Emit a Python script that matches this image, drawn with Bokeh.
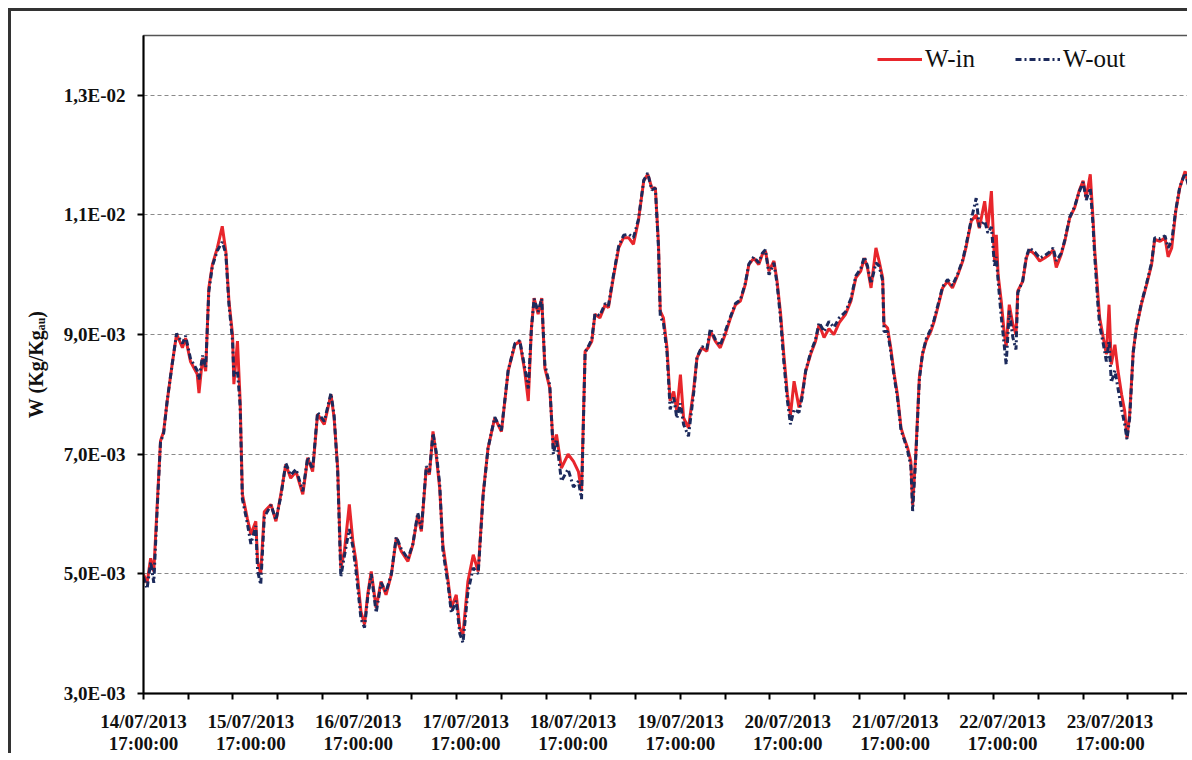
import numpy as np
from bokeh.plotting import figure
from bokeh.models import Range1d, FixedTicker, Legend, LegendItem
from bokeh.embed import file_html
from bokeh.resources import INLINE

# hours since 14/07/2013 17:00:00
hours = [0.0, 0.8, 1.6, 2.3, 3.1, 3.8, 4.5, 5.3, 6.4, 7.4, 8.7, 9.4, 10.5, 12.0, 12.4, 13.2, 13.9,
         14.6, 15.4, 16.5, 17.6, 18.4, 19.1, 19.9, 20.2, 21.0, 21.6, 22.1, 23.2, 24.0, 25.1, 25.5,
         26.2, 27.0, 28.5, 29.6, 30.7, 31.8, 32.9, 34.1, 35.6, 36.7, 37.8, 38.9, 40.4, 41.9, 42.6,
         43.4, 44.1, 44.9, 46.0, 46.8, 47.5, 48.6, 49.4, 50.1, 50.9, 52.0, 53.1, 54.2, 55.4, 56.5,
         57.6, 59.1, 60.2, 61.3, 62.1, 63.2, 63.9, 64.7, 65.4, 66.2, 66.9, 68.1, 68.8, 69.9, 70.7,
         71.4, 72.5, 73.7, 74.8, 75.9, 77.0, 78.5, 80.0, 81.5, 83.0, 84.1, 85.2, 86.0, 86.7, 87.3,
         88.2, 89.0, 89.7, 90.8, 91.6, 92.3, 93.4, 94.9, 96.1, 97.2, 97.9, 98.7, 99.4, 100.2, 100.9,
         102.0, 103.2, 103.9, 105.0, 106.2, 107.3, 108.4, 109.5, 110.6, 111.8, 112.7, 113.6, 114.4,
         115.1, 115.5, 116.2, 117.0, 117.7, 118.5, 119.2, 120.0, 120.7, 121.8, 123.0, 123.7, 124.8,
         125.9, 126.7, 127.8, 128.9, 130.0, 131.2, 132.3, 133.4, 134.5, 135.3, 136.4, 137.5, 138.3,
         139.0, 139.8, 140.9, 141.6, 142.4, 143.1, 143.9, 144.6, 145.4, 146.5, 147.2, 148.0, 149.1,
         150.2, 151.0, 152.1, 153.2, 154.3, 155.5, 156.9, 158.1, 159.2, 160.3, 161.1, 161.8, 162.6,
         163.7, 164.4, 165.2, 165.5, 166.3, 167.0, 167.8, 168.5, 169.3, 170.0, 170.8, 171.5, 171.9,
         172.6, 173.4, 174.1, 174.9, 176.0, 176.7, 177.5, 178.6, 179.7, 180.8, 182.0, 183.1, 183.8,
         185.0, 186.1, 186.8, 188.0, 188.7, 189.5, 190.2, 190.6, 191.0, 191.7, 192.4, 192.8, 193.5,
         194.3, 195.0, 195.4, 196.5, 197.3, 198.0, 199.2, 200.3, 201.4, 202.5, 203.3, 204.0, 205.1,
         205.9, 207.0, 208.1, 209.1, 210.0, 210.7, 211.6, 212.2, 212.6, 213.0, 213.3, 213.7, 214.5,
         215.2, 215.8, 216.3, 217.1, 217.8, 218.6, 219.3, 219.8, 220.4, 221.2, 221.9, 223.0, 224.2,
         225.3, 226.0, 227.2, 228.3, 229.0, 229.8, 230.7, 231.6, 232.8, 233.9]

# W-in, in units of 1E-03 kg/kg
w_in_e3 = [4.99, 4.85, 5.26, 5.04, 6.21, 7.22, 7.38, 7.89, 8.50, 9.01, 8.78, 8.94, 8.55, 8.34, 8.02, 8.61, 8.39,
           9.78, 10.17, 10.45, 10.81, 10.39, 9.56, 9.00, 8.17, 8.89, 7.89, 6.33, 5.93, 5.66, 5.88, 5.21,
           5.00, 6.04, 6.16, 5.88, 6.33, 6.83, 6.60, 6.71, 6.33, 6.94, 6.71, 7.67, 7.50, 8.00, 7.61,
           6.77, 5.10, 5.38, 6.16, 5.54, 5.21, 4.37, 4.15, 4.65, 5.04, 4.43, 4.87, 4.65, 4.99, 5.60,
           5.38, 5.21, 5.49, 5.99, 5.71, 6.77, 6.66, 7.38, 7.00, 6.43, 5.49, 4.87, 4.43, 4.65, 4.09,
           3.99, 4.87, 5.32, 5.04, 6.33, 7.10, 7.61, 7.38, 8.39, 8.83, 8.89, 8.39, 7.89, 9.11, 9.61,
           9.34, 9.61, 8.44, 8.11, 7.10, 7.33, 6.77, 7.00, 6.88, 6.71, 6.38, 8.72, 8.78, 8.89, 9.34,
           9.28, 9.50, 9.45, 9.95, 10.45, 10.62, 10.62, 10.51, 10.90, 11.57, 11.68, 11.45, 11.45,
           10.51, 9.39, 9.28, 8.78, 7.89, 8.05, 7.72, 8.33, 7.61, 7.44, 8.11, 8.61, 8.78,
           8.72, 9.06, 8.89, 8.78, 9.00, 9.28, 9.50, 9.56, 9.84, 10.17, 10.28, 10.17, 10.34,
           10.40, 10.06, 10.23, 9.89, 9.34, 8.67, 8.00, 7.66, 8.22, 7.78, 8.00, 8.39, 8.67,
           8.89, 9.17, 8.95, 9.10, 9.00, 9.20, 9.34, 9.56, 9.95, 10.06, 10.28, 10.12, 9.78,
           10.45, 10.23, 9.95, 9.17, 9.11, 8.78, 8.33, 8.00, 7.44, 7.27, 7.10, 6.88, 6.15,
           7.00, 8.28, 8.67, 8.89, 9.06, 9.22, 9.45, 9.78, 9.89, 9.78, 10.00, 10.23, 10.45,
           10.90, 11.00, 10.78, 11.23, 10.78, 11.40, 10.23, 10.67, 10.00, 9.56, 9.00, 8.80, 9.50,
           9.17, 9.00, 9.73, 9.89, 10.28, 10.42, 10.34, 10.23, 10.28, 10.34, 10.42, 10.12, 10.34,
           10.56, 10.95, 11.12, 11.40, 11.57, 11.29, 11.68, 10.95, 10.40, 10.00, 9.67, 9.28, 8.95,
           8.67, 9.50, 8.50, 8.83, 8.39, 8.00, 7.72, 7.27, 7.66, 8.72, 9.11, 9.50, 9.84,
           10.17, 10.59, 10.56, 10.62, 10.30, 10.45, 11.06, 11.45, 11.73, 11.40]

# W-out, in units of 1E-03 kg/kg
w_out_e3 = [4.95, 4.75, 5.20, 4.85, 6.15, 7.20, 7.35, 7.90, 8.50, 9.02, 8.85, 8.98, 8.60, 8.40, 8.25, 8.65, 8.45,
            9.72, 10.15, 10.40, 10.55, 10.35, 9.50, 8.90, 8.30, 8.40, 7.80, 6.25, 5.85, 5.50, 5.80, 5.05,
            4.82, 5.95, 6.15, 5.90, 6.30, 6.85, 6.65, 6.75, 6.38, 6.95, 6.75, 7.70, 7.55, 8.02, 7.65,
            6.70, 4.95, 5.30, 5.75, 5.45, 5.05, 4.25, 4.10, 4.60, 5.00, 4.35, 4.85, 4.70, 5.00, 5.62,
            5.42, 5.25, 5.50, 6.02, 5.75, 6.80, 6.70, 7.35, 7.05, 6.50, 5.40, 4.80, 4.35, 4.55, 4.00,
            3.85, 4.70, 5.10, 5.00, 6.30, 7.10, 7.62, 7.40, 8.40, 8.85, 8.90, 8.45, 8.10, 9.10, 9.60,
            9.38, 9.60, 8.50, 8.15, 7.00, 7.25, 6.55, 6.75, 6.45, 6.55, 6.25, 8.70, 8.80, 8.92, 9.35,
            9.32, 9.52, 9.48, 9.98, 10.48, 10.66, 10.68, 10.62, 10.92, 11.58, 11.70, 11.42, 11.45,
            10.45, 9.30, 9.20, 8.70, 7.75, 7.95, 7.60, 7.85, 7.50, 7.30, 8.05, 8.62, 8.80,
            8.76, 9.10, 8.92, 8.82, 9.05, 9.30, 9.52, 9.58, 9.86, 10.18, 10.30, 10.20, 10.36,
            10.42, 10.00, 10.20, 9.85, 9.25, 8.55, 7.90, 7.50, 7.75, 7.70, 7.95, 8.40, 8.70,
            8.92, 9.20, 9.05, 9.22, 9.12, 9.28, 9.38, 9.60, 9.98, 10.10, 10.30, 10.15, 9.85,
            10.20, 10.15, 9.90, 9.05, 9.05, 8.72, 8.28, 7.95, 7.40, 7.25, 7.05, 6.80, 6.05,
            6.95, 8.25, 8.68, 8.92, 9.10, 9.25, 9.48, 9.80, 9.92, 9.82, 10.02, 10.25, 10.48,
            10.92, 11.28, 10.80, 10.90, 10.70, 10.80, 10.15, 10.30, 9.90, 9.30, 8.80, 8.50, 9.40,
            8.95, 8.75, 9.70, 9.90, 10.30, 10.45, 10.38, 10.28, 10.32, 10.38, 10.45, 10.23, 10.36,
            10.58, 10.96, 11.14, 11.38, 11.55, 11.25, 11.45, 10.85, 10.30, 9.85, 9.50, 9.15, 8.85,
            8.55, 8.90, 8.20, 8.40, 8.10, 7.75, 7.50, 7.25, 7.60, 8.70, 9.12, 9.52, 9.86,
            10.20, 10.62, 10.60, 10.65, 10.45, 10.56, 11.08, 11.47, 11.70, 11.40]

y_ticks_e3 = [3, 5, 7, 9, 11, 13]
y_tick_labels = ["3,0E-03", "5,0E-03", "7,0E-03", "9,0E-03", "1,1E-02", "1,3E-02"]
day_ticks_h = [0, 24, 48, 72, 96, 120, 144, 168, 192, 216]
day_labels = ["14/07/2013", "15/07/2013", "16/07/2013", "17/07/2013", "18/07/2013",
              "19/07/2013", "20/07/2013", "21/07/2013", "22/07/2013", "23/07/2013"]
time_label = "17:00:00"
minor_tick_h = list(range(0, 231, 10))

x = np.array(hours)
w_in = np.array(w_in_e3) * 1e-3
w_out = np.array(w_out_e3) * 1e-3

p = figure(width=1179, height=745, output_backend="svg", toolbar_location=None,
           x_range=Range1d(0, 234), y_range=Range1d(0.003, 0.014))
p.min_border_left = 132
p.min_border_right = 0
p.min_border_top = 24
p.min_border_bottom = 55
p.background_fill_color = "white"
p.border_fill_color = "white"
p.outline_line_color = "#555555"
p.outline_line_width = 1.5
p.styles = {"border-top": "3px solid #333333", "border-left": "3px solid #333333",
            "margin-left": "8px", "margin-top": "8px"}

FONT = "Liberation Serif"

r_in = p.line(x, w_in, line_color="#e8262c", line_width=3)
r_out = p.line(x, w_out, line_color="#1c2a5c", line_width=3, line_dash="6 3 2 3")

# grid
p.xgrid.visible = False
p.ygrid.ticker = FixedTicker(ticks=[v * 1e-3 for v in y_ticks_e3])
p.ygrid.grid_line_color = "#8a8a8a"
p.ygrid.grid_line_dash = "4 3"
p.ygrid.grid_line_width = 1

# y axis
ya = p.yaxis[0]
ya.ticker = FixedTicker(ticks=[v * 1e-3 for v in y_ticks_e3], minor_ticks=[])
ya.major_label_overrides = {v * 1e-3: lab for v, lab in zip(y_ticks_e3, y_tick_labels)}
ya.major_label_text_font = FONT
ya.major_label_text_font_style = "bold"
ya.major_label_text_font_size = "19px"
ya.major_label_text_color = "#111111"
ya.major_tick_out = 6
ya.major_tick_in = 0
ya.major_tick_line_width = 2
ya.minor_tick_out = 0
ya.minor_tick_in = 0
ya.axis_line_width = 2
ya.axis_line_color = "black"
ya.major_label_standoff = 12
ya.axis_label = "W (Kg/Kgₐᵤ)"
ya.axis_label_text_font = FONT
ya.axis_label_text_font_style = "bold"
ya.axis_label_text_font_size = "20px"
ya.axis_label_text_color = "#111111"
ya.axis_label_standoff = 14

# x axis
xa = p.xaxis[0]
xa.ticker = FixedTicker(ticks=day_ticks_h, minor_ticks=minor_tick_h)
xa.major_label_overrides = {h: f"{d}\n{time_label}" for h, d in zip(day_ticks_h, day_labels)}
xa.major_label_text_font = FONT
xa.major_label_text_font_style = "bold"
xa.major_label_text_font_size = "19px"
xa.major_label_text_line_height = 1.05
xa.major_label_text_color = "#111111"
xa.major_tick_out = 0
xa.major_tick_in = 0
xa.minor_tick_out = 6
xa.minor_tick_in = 0
xa.minor_tick_line_width = 2
xa.minor_tick_line_color = "black"
xa.axis_line_width = 2
xa.axis_line_color = "black"
xa.major_label_standoff = 11

legend = Legend(items=[LegendItem(label="W-in", renderers=[r_in]),
                       LegendItem(label="W-out", renderers=[r_out])],
                orientation="horizontal", location=(734, 620))
legend.border_line_color = None
legend.background_fill_alpha = 0
legend.label_text_font = FONT
legend.label_text_font_size = "25px"
legend.label_text_color = "#111111"
legend.glyph_width = 45
legend.label_standoff = 3
legend.spacing = 40
legend.padding = 0
legend.margin = 0
p.add_layout(legend)

open("out.html", "w").write(file_html(p, INLINE))
